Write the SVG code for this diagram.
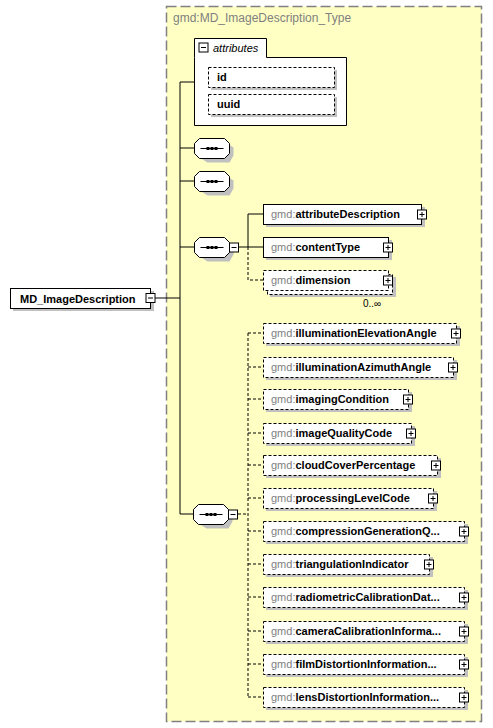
<svg xmlns="http://www.w3.org/2000/svg" width="493" height="728" viewBox="0 0 493 728">
<style>
.bg{fill:#FFFFC4;stroke:#808080;stroke-width:1.5;stroke-dasharray:10,4}
.box{fill:#fff;stroke:#000;stroke-width:1}
.dbox{fill:#fff;stroke:#000;stroke-width:1;stroke-dasharray:3,2}
.sh{fill:#C0C0C0}
.ln{stroke:#000;stroke-width:1;fill:none}
.dl{stroke:#000;stroke-width:1;fill:none;stroke-dasharray:3,2}
.t{font-family:"Liberation Sans",Arial,sans-serif;font-size:11px;font-weight:bold;fill:#000}
.g{font-weight:normal;fill:#808080}
.ttl{font-family:"Liberation Sans",Arial,sans-serif;font-size:12px;fill:#808080}
.it{font-family:"Liberation Sans",Arial,sans-serif;font-size:11px;font-style:italic;fill:#000}
.sm{font-family:"Liberation Sans",Arial,sans-serif;font-size:10px;fill:#000}
</style>
<defs>
<g id="plus"><rect x="-4.5" y="-4.5" width="9" height="9" class="box"/><path d="M-2.5 0H2.5M0 -2.5V2.5" class="ln"/></g>
<g id="minus"><rect x="-4.5" y="-4.5" width="9" height="9" class="box"/><path d="M-2.5 0H2.5" class="ln"/></g>
<g id="seq"><path d="M9 4H31L39 9V17L35 24H13L5 19V11Z" class="sh"/><path d="M5 0H30L35 5V15L30 20H5L0 15V5Z" class="box"/><path d="M6 10H29" class="ln"/><rect x="12" y="8.5" width="3" height="3"/><rect x="16" y="8.5" width="3" height="3"/><rect x="20" y="8.5" width="3" height="3"/></g>
</defs>
<rect x="166.5" y="6.5" width="315" height="715" class="bg"/>
<text x="173" y="22" class="ttl">gmd:MD_ImageDescription_Type</text>

<g id="connectors">
<path d="M180 82V514M180 82H194M180 148H194M180 181H194M180 247H194M155 298H180M180 514H194" class="ln"/>
<path d="M239 247H263M248 214V247M248 214H263" class="ln"/>
<path d="M248 247V280H263" class="dl"/>
<path d="M238 514H248M248 333V697M248 333H263M248 367H263M248 399H263M248 433H263M248 465H263M248 498H263M248 531H263M248 564H263M248 597H263M248 631H263M248 664H263M248 697H263" class="dl"/>
</g>

<g id="root">
<rect x="13" y="291" width="141" height="20" class="sh"/>
<rect x="10.5" y="288.5" width="140" height="20" class="box"/>
<text x="20" y="303" class="t">MD_ImageDescription</text>
<use href="#minus" x="150.5" y="298"/>
</g>

<g id="attributes">
<path d="M194.5 57.5V38.5H266.5V57.5H346.5V125.5H194.5Z" class="box"/>
<use href="#minus" x="203.5" y="47.5"/>
<text x="213" y="52" class="it">attributes</text>
<rect x="211" y="70" width="126" height="20" class="sh"/>
<rect x="208.5" y="67.5" width="126" height="20" class="dbox"/>
<text x="217" y="81" class="t">id</text>
<rect x="211" y="97" width="126" height="20" class="sh"/>
<rect x="208.5" y="94.5" width="126" height="20" class="dbox"/>
<text x="217" y="108" class="t">uuid</text>
</g>

<g id="seq1"><use href="#seq" x="194.5" y="138.5"/></g>
<g id="seq2"><use href="#seq" x="194.5" y="171.5"/></g>
<g id="seq3"><use href="#seq" x="194.5" y="237.5"/><use href="#minus" x="234" y="247.5"/></g>
<g id="seq4"><use href="#seq" x="193.5" y="504.5"/><use href="#minus" x="233" y="514.5"/></g>

<g id="attributeDescription">
<rect x="266" y="207" width="159" height="20" class="sh"/>
<rect x="263.5" y="204.5" width="158" height="20" class="box"/>
<text x="271" y="218"><tspan class="t g">gmd:</tspan><tspan class="t">attributeDescription</tspan></text>
<use href="#plus" x="422" y="214.5"/>
</g>
<g id="contentType">
<rect x="266" y="240" width="126" height="20" class="sh"/>
<rect x="263.5" y="237.5" width="125" height="20" class="box"/>
<text x="271" y="251"><tspan class="t g">gmd:</tspan><tspan class="t">contentType</tspan></text>
<use href="#plus" x="388" y="247.5"/>
</g>
<g id="dimension">
<rect x="270" y="277" width="126" height="20" class="sh"/>
<rect x="267.5" y="274.5" width="125" height="20" class="dbox"/>
<rect x="263.5" y="270.5" width="125" height="20" class="dbox"/>
<text x="271" y="284"><tspan class="t g">gmd:</tspan><tspan class="t">dimension</tspan></text>
<use href="#plus" x="388" y="280.5"/>
<text x="363" y="307" class="sm">0..∞</text>
</g>

<g id="illuminationElevationAngle">
<rect x="266" y="326" width="194" height="20" class="sh"/>
<rect x="263.5" y="323.5" width="193" height="20" class="dbox"/>
<text x="271" y="337"><tspan class="t g">gmd:</tspan><tspan class="t">illuminationElevationAngle</tspan></text>
<use href="#plus" x="456" y="333.5"/>
</g>
<g id="illuminationAzimuthAngle">
<rect x="266" y="360" width="191" height="20" class="sh"/>
<rect x="263.5" y="357.5" width="190" height="20" class="dbox"/>
<text x="271" y="371"><tspan class="t g">gmd:</tspan><tspan class="t">illuminationAzimuthAngle</tspan></text>
<use href="#plus" x="453" y="367.5"/>
</g>
<g id="imagingCondition">
<rect x="266" y="392" width="146" height="20" class="sh"/>
<rect x="263.5" y="389.5" width="145" height="20" class="dbox"/>
<text x="271" y="403"><tspan class="t g">gmd:</tspan><tspan class="t">imagingCondition</tspan></text>
<use href="#plus" x="408" y="399.5"/>
</g>
<g id="imageQualityCode">
<rect x="266" y="426" width="149" height="20" class="sh"/>
<rect x="263.5" y="423.5" width="148" height="20" class="dbox"/>
<text x="271" y="437"><tspan class="t g">gmd:</tspan><tspan class="t">imageQualityCode</tspan></text>
<use href="#plus" x="411" y="433.5"/>
</g>
<g id="cloudCoverPercentage">
<rect x="266" y="458" width="175" height="20" class="sh"/>
<rect x="263.5" y="455.5" width="174" height="20" class="dbox"/>
<text x="271" y="469"><tspan class="t g">gmd:</tspan><tspan class="t">cloudCoverPercentage</tspan></text>
<use href="#plus" x="436" y="465.5"/>
</g>
<g id="processingLevelCode">
<rect x="266" y="491" width="171" height="20" class="sh"/>
<rect x="263.5" y="488.5" width="170" height="20" class="dbox"/>
<text x="271" y="502"><tspan class="t g">gmd:</tspan><tspan class="t">processingLevelCode</tspan></text>
<use href="#plus" x="433" y="498.5"/>
</g>
<g id="compressionGenerationQuantity">
<rect x="266" y="524" width="202" height="20" class="sh"/>
<rect x="263.5" y="521.5" width="201" height="20" class="dbox"/>
<text x="271" y="535"><tspan class="t g">gmd:</tspan><tspan class="t">compressionGenerationQ...</tspan></text>
<use href="#plus" x="464" y="531.5"/>
</g>
<g id="triangulationIndicator">
<rect x="266" y="557" width="167" height="20" class="sh"/>
<rect x="263.5" y="554.5" width="166" height="20" class="dbox"/>
<text x="271" y="568"><tspan class="t g">gmd:</tspan><tspan class="t">triangulationIndicator</tspan></text>
<use href="#plus" x="429" y="564.5"/>
</g>
<g id="radiometricCalibrationDataAvailability">
<rect x="266" y="590" width="202" height="20" class="sh"/>
<rect x="263.5" y="587.5" width="201" height="20" class="dbox"/>
<text x="271" y="601"><tspan class="t g">gmd:</tspan><tspan class="t">radiometricCalibrationDat...</tspan></text>
<use href="#plus" x="464" y="597.5"/>
</g>
<g id="cameraCalibrationInformationAvailability">
<rect x="266" y="624" width="202" height="20" class="sh"/>
<rect x="263.5" y="621.5" width="201" height="20" class="dbox"/>
<text x="271" y="635"><tspan class="t g">gmd:</tspan><tspan class="t">cameraCalibrationInforma...</tspan></text>
<use href="#plus" x="464" y="631.5"/>
</g>
<g id="filmDistortionInformationAvailability">
<rect x="266" y="657" width="202" height="20" class="sh"/>
<rect x="263.5" y="654.5" width="201" height="20" class="dbox"/>
<text x="271" y="668"><tspan class="t g">gmd:</tspan><tspan class="t">filmDistortionInformation...</tspan></text>
<use href="#plus" x="464" y="664.5"/>
</g>
<g id="lensDistortionInformationAvailability">
<rect x="266" y="690" width="202" height="20" class="sh"/>
<rect x="263.5" y="687.5" width="201" height="20" class="dbox"/>
<text x="271" y="701"><tspan class="t g">gmd:</tspan><tspan class="t">lensDistortionInformation...</tspan></text>
<use href="#plus" x="464" y="697.5"/>
</g>
</svg>
